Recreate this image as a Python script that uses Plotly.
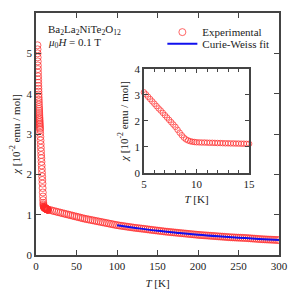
import plotly.graph_objects as go

# ---------------- data (chi in 10^-2 emu/mol) ----------------
T_low = [1.8, 1.9, 2.0, 2.1, 2.2, 2.3, 2.4, 2.5, 2.6, 2.7, 2.8, 2.9, 3.0, 3.1, 3.2, 3.3,
         3.4, 3.5, 3.6, 3.7, 3.8, 3.9, 4.0, 4.1, 4.2, 4.3, 4.4, 4.5, 4.6, 4.7, 4.8, 4.9]
chi_low = [5.20, 5.10, 5.00, 4.90, 4.80, 4.70, 4.61, 4.52, 4.43, 4.35, 4.27, 4.19, 4.12, 4.05,
           3.98, 3.91, 3.85, 3.79, 3.73, 3.67, 3.62, 3.57, 3.52, 3.47, 3.42, 3.38, 3.34, 3.30,
           3.26, 3.22, 3.18, 3.14]

T_mid = [5.0, 5.2, 5.4, 5.6, 5.8, 6.0, 6.2, 6.4, 6.6, 6.8, 7.0, 7.2, 7.4, 7.6, 7.8, 8.0,
         8.2, 8.4, 8.6, 8.8, 9.0, 9.2, 9.4, 9.6, 9.8, 10.0, 10.25, 10.5, 10.75, 11.0, 11.25,
         11.5, 11.75, 12.0, 12.25, 12.5, 12.75, 13.0, 13.25, 13.5, 13.75, 14.0, 14.25, 14.5,
         14.75, 15.0]
chi_mid = [3.10, 3.02, 2.93, 2.84, 2.75, 2.66, 2.57, 2.48, 2.40, 2.31, 2.22, 2.13, 2.04, 1.95,
           1.86, 1.77, 1.66, 1.55, 1.45, 1.36, 1.29, 1.25, 1.22, 1.20, 1.19, 1.18, 1.175, 1.17,
           1.17, 1.165, 1.16, 1.16, 1.155, 1.15, 1.15, 1.145, 1.14, 1.14, 1.135, 1.135, 1.13,
           1.13, 1.125, 1.125, 1.12, 1.12]

T_high = [17.5, 20, 22.5, 25, 27.5, 30, 32.5, 35, 37.5, 40, 42.5, 45, 47.5, 50, 52.5, 55, 57.5,
          60, 62.5, 65, 67.5, 70, 72.5, 75, 77.5, 80, 82.5, 85, 87.5, 90, 92.5, 95, 97.5,
          100, 102.5, 105, 107.5, 110, 112.5, 115, 117.5, 120, 122.5, 125, 127.5, 130, 132.5,
          135, 137.5, 140, 142.5, 145, 147.5, 150, 152.5, 155, 157.5, 160, 162.5, 165, 167.5,
          170, 172.5, 175, 177.5, 180, 182.5, 185, 187.5, 190, 192.5, 195, 197.5, 200, 202.5,
          205, 207.5, 210, 212.5, 215, 217.5, 220, 222.5, 225, 227.5, 230, 232.5, 235, 237.5,
          240, 242.5, 245, 247.5, 250, 252.5, 255, 257.5, 260, 262.5, 265, 267.5, 270, 272.5,
          275, 277.5, 280, 282.5, 285, 287.5, 290, 292.5, 295, 297.5, 300]
chi_high = [1.115, 1.10, 1.088, 1.075, 1.062, 1.05, 1.037, 1.025, 1.012, 1.00, 0.988, 0.975,
            0.962, 0.95, 0.938, 0.925, 0.912, 0.90, 0.89, 0.88, 0.87, 0.86, 0.85, 0.84, 0.83,
            0.82, 0.81, 0.80, 0.79, 0.78, 0.77, 0.76, 0.75, 0.74, 0.732, 0.725, 0.717, 0.71,
            0.702, 0.695, 0.687, 0.68, 0.673, 0.667, 0.661, 0.655, 0.649, 0.643, 0.636, 0.63,
            0.623, 0.617, 0.611, 0.605, 0.599, 0.593, 0.586, 0.58, 0.575, 0.57, 0.565, 0.56,
            0.555, 0.55, 0.545, 0.54, 0.535, 0.53, 0.525, 0.52, 0.515, 0.51, 0.505, 0.50,
            0.496, 0.492, 0.488, 0.485, 0.481, 0.477, 0.473, 0.47, 0.466, 0.462, 0.458, 0.455,
            0.451, 0.447, 0.443, 0.44, 0.437, 0.435, 0.432, 0.43, 0.427, 0.425, 0.422, 0.42,
            0.416, 0.412, 0.408, 0.405, 0.401, 0.397, 0.393, 0.39, 0.387, 0.385, 0.382, 0.38,
            0.377, 0.375, 0.372, 0.37]

T_fit = [100, 125, 150, 175, 200, 225, 250, 275, 300]
chi_fit = [0.735, 0.665, 0.60, 0.548, 0.50, 0.462, 0.43, 0.398, 0.37]

main_x_ticks = [0, 50, 100, 150, 200, 250, 300]
main_y_ticks = [0, 1, 2, 3, 4, 5, 6]
inset_x_ticks = [5, 10, 15]
inset_y_ticks = [0, 1, 2, 3, 4]

# ---------------- figure ----------------
FONT = "Liberation Serif"
RED = "rgba(255,40,40,0.7)"
AX = "#444444"

T_all = T_low + T_mid + T_high
chi_all = chi_low + chi_mid + chi_high

fig = go.Figure()
fig.add_trace(go.Scatter(
    x=T_all, y=chi_all, mode="markers", name="Experimental", legend="legend",
    marker=dict(symbol="circle-open", size=7, color=RED, line=dict(width=1, color=RED)),
    xaxis="x", yaxis="y"))
fig.add_trace(go.Scatter(
    x=T_fit, y=chi_fit, mode="lines", name="Curie-Weiss fit", line_shape="spline",
    legend="legend2",
    line=dict(color="#1010ee", width=2), xaxis="x", yaxis="y"))
fig.add_trace(go.Scatter(
    x=T_mid, y=chi_mid, mode="markers", showlegend=False, cliponaxis=False,
    marker=dict(symbol="circle-open", size=5.5, color=RED, line=dict(width=1, color=RED)),
    xaxis="x2", yaxis="y2"))

axis_common = dict(showline=True, linecolor=AX, linewidth=1.5, mirror="ticks",
                   ticks="inside", tickcolor=AX, tickwidth=1.2, showgrid=False,
                   zeroline=False, automargin=False,
                   tickfont=dict(family=FONT, size=11, color="#222"))

legend_common = dict(xanchor="left", yanchor="middle", bgcolor="rgba(0,0,0,0)",
                     font=dict(family=FONT, size=11, color="#222"), itemwidth=30,
                     borderwidth=0)

fig.update_layout(
    width=296, height=285,
    margin=dict(l=28, r=25, t=5, b=38, autoexpand=False),
    paper_bgcolor="white", plot_bgcolor="white",
    font=dict(family=FONT, size=11, color="#222"),
    xaxis=dict(range=[0, 300], tickvals=main_x_ticks, ticklen=5,
               title=dict(text="<i>T</i> [K]", standoff=8, font=dict(family=FONT, size=11)),
               **axis_common),
    yaxis=dict(range=[0, 6], tickvals=main_y_ticks, ticklen=5,
               title=dict(text="<i>χ</i> [10<sup>-2</sup> emu / mol]", standoff=6,
                          font=dict(family=FONT, size=11)),
               **axis_common),
    xaxis2=dict(domain=[0.444, 0.877], anchor="y2", range=[5, 15], tickvals=inset_x_ticks,
                ticklen=4, minor=dict(dtick=1, ticklen=3, ticks="inside", tickcolor=AX),
                title=dict(text="<i>T</i> [K]", standoff=6, font=dict(family=FONT, size=11)),
                **axis_common),
    yaxis2=dict(domain=[0.339, 0.769], anchor="x2", range=[0, 4], tickvals=inset_y_ticks,
                ticklen=4,
                title=dict(text="<i>χ</i> [10<sup>-2</sup> emu / mol]", standoff=4,
                           font=dict(family=FONT, size=11)),
                **axis_common),
    legend=dict(x=0.52, y=0.921, **legend_common),
    legend2=dict(x=0.52, y=0.873, **legend_common),
    showlegend=True,
)

fig.add_annotation(x=0.04, y=0.93, xref="paper", yref="paper", xanchor="left", yanchor="middle",
                   showarrow=False, align="left",
                   text="Ba<sub>2</sub>La<sub>2</sub>NiTe<sub>2</sub>O<sub>12</sub>",
                   font=dict(family=FONT, size=11, color="#222"))
fig.add_annotation(x=0.04, y=0.877, xref="paper", yref="paper", xanchor="left", yanchor="middle",
                   showarrow=False, align="left",
                   text="<i>μ</i><sub>0</sub><i>H</i> = 0.1 T",
                   font=dict(family=FONT, size=11, color="#222"))

fig.write_html("out.html")
